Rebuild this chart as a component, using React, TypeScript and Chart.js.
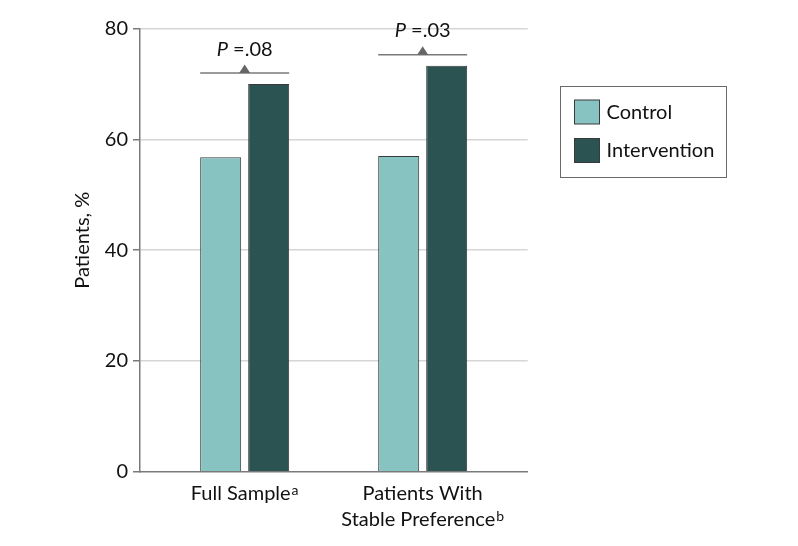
import React, { useEffect, useRef } from 'react';
import { Chart, registerables } from 'chart.js';

Chart.register(...registerables);

// ---- data ----
const categoryLines = [['Full Sample'], ['Patients With', 'Stable Preference']];
const footnoteMarks = ['a', 'b'];
const categoryPositions = [1, 2];
const seriesNames = ['Control', 'Intervention'];
const controlValues = [56.8, 57.0];
const interventionValues = [70.0, 73.3];
const pValueLabels = ['.08', '.03'];
const yTickValues = [0, 20, 40, 60, 80];
const yAxisTitle = 'Patients, %';

// ---- style ----
const FONT = 'Lato, "DejaVu Sans", sans-serif';
const FS = 20;
const TEXT = '#111111';
const AXIS = '#7a7a7a';
const GRID = '#d6d6d6';
const CONTROL_COLOR = '#87c3c1';
const INTERVENTION_COLOR = '#2b5351';
const BAR_BORDER = '#3a3a3a';
const seriesColors = [CONTROL_COLOR, INTERVENTION_COLOR];

const overlayPlugin = {
  id: 'overlay',
  afterDraw(chart: any) {
    const { ctx, chartArea } = chart;
    const xScale = chart.scales.x;
    const yScale = chart.scales.y;
    ctx.save();
    ctx.fillStyle = TEXT;

    // y-axis title
    ctx.save();
    ctx.translate(83, (chartArea.top + chartArea.bottom) / 2 - 10);
    ctx.rotate(-Math.PI / 2);
    ctx.font = `${FS}px ${FONT}`;
    ctx.textAlign = 'center';
    ctx.textBaseline = 'middle';
    ctx.fillText(yAxisTitle, 0, 0);
    ctx.restore();

    // x category labels with superscript footnote marks
    categoryPositions.forEach((pos, i) => {
      const cx = xScale.getPixelForValue(pos);
      const lines = categoryLines[i];
      lines.forEach((line, li) => {
        const baseline = chartArea.bottom + 28.5 + li * 26;
        ctx.font = `${FS}px ${FONT}`;
        const w = ctx.measureText(line).width;
        const isLast = li === lines.length - 1;
        let supW = 0;
        if (isLast) {
          ctx.font = `14px ${FONT}`;
          supW = ctx.measureText(footnoteMarks[i]).width + 1;
        }
        const total = w + supW;
        const left = cx - total / 2;
        ctx.font = `${FS}px ${FONT}`;
        ctx.textAlign = 'left';
        ctx.textBaseline = 'alphabetic';
        ctx.fillText(line, left, baseline);
        if (isLast) {
          ctx.font = `14px ${FONT}`;
          ctx.fillText(footnoteMarks[i], left + w + 1, baseline - 5);
        }
      });
    });

    // significance brackets
    const m0 = chart.getDatasetMeta(0);
    const m1 = chart.getDatasetMeta(1);
    categoryPositions.forEach((pos, i) => {
      const b0 = m0.data[i];
      const b1 = m1.data[i];
      const left = b0.x - b0.width / 2;
      const right = b1.x + b1.width / 2;
      const cx = (left + right) / 2;
      const top = Math.max(controlValues[i], interventionValues[i]) + 2;
      const yLine = yScale.getPixelForValue(top);
      ctx.strokeStyle = AXIS;
      ctx.lineWidth = 1.5;
      ctx.beginPath();
      ctx.moveTo(left, yLine);
      ctx.lineTo(right, yLine);
      ctx.stroke();
      ctx.fillStyle = '#666666';
      ctx.beginPath();
      ctx.moveTo(cx - 5.5, yLine);
      ctx.lineTo(cx + 5.5, yLine);
      ctx.lineTo(cx, yLine - 8.5);
      ctx.closePath();
      ctx.fill();

      ctx.fillStyle = TEXT;
      ctx.textBaseline = 'alphabetic';
      ctx.textAlign = 'left';
      ctx.font = `italic ${FS}px ${FONT}`;
      const pW = ctx.measureText('P').width;
      ctx.font = `${FS}px ${FONT}`;
      const rest = ' =' + pValueLabels[i];
      const rW = ctx.measureText(rest).width;
      const start = cx - (pW + rW) / 2;
      const base = yLine - 17.5;
      ctx.font = `italic ${FS}px ${FONT}`;
      ctx.fillText('P', start, base);
      ctx.font = `${FS}px ${FONT}`;
      ctx.fillText(rest, start + pW, base);
    });

    // legend
    const lx = 560.5, ly = 86.5, lw = 166, lh = 91;
    ctx.strokeStyle = '#6a6a6a';
    ctx.lineWidth = 1;
    ctx.strokeRect(lx, ly, lw, lh);
    seriesNames.forEach((name, i) => {
      const sy = 100 + i * 38.5;
      ctx.fillStyle = seriesColors[i];
      ctx.fillRect(574.5, sy, 25, 24);
      ctx.strokeStyle = BAR_BORDER;
      ctx.lineWidth = 1;
      ctx.strokeRect(574.5, sy, 25, 24);
      ctx.fillStyle = TEXT;
      ctx.font = `${FS}px ${FONT}`;
      ctx.textAlign = 'left';
      ctx.textBaseline = 'middle';
      ctx.fillText(name, 606.5, sy + 12.5);
    });

    ctx.restore();
  },
};

export default function App() {
  const canvasRef = useRef<HTMLCanvasElement | null>(null);

  useEffect(() => {
    const canvas = canvasRef.current;
    if (!canvas) return;
    const makeData = (vals: number[]) => categoryPositions.map((x, i) => ({ x, y: vals[i] }));
    const chart = new Chart(canvas, {
      type: 'bar',
      data: {
        datasets: [
          {
            label: seriesNames[0],
            data: makeData(controlValues),
            backgroundColor: CONTROL_COLOR,
            borderColor: BAR_BORDER,
            borderWidth: 1,
            categoryPercentage: 0.5393,
            barPercentage: 0.854,
          },
          {
            label: seriesNames[1],
            data: makeData(interventionValues),
            backgroundColor: INTERVENTION_COLOR,
            borderColor: BAR_BORDER,
            borderWidth: 1,
            categoryPercentage: 0.5393,
            barPercentage: 0.854,
          },
        ],
      } as any,
      options: {
        responsive: false,
        devicePixelRatio: 1,
        animation: false,
        layout: { padding: { left: 0, top: 28.7, right: 270.3, bottom: 0 } },
        plugins: { legend: { display: false }, tooltip: { enabled: false } },
        scales: {
          x: {
            type: 'linear',
            min: 0.412,
            max: 2.59,
            bounds: 'data',
            offset: false,
            afterBuildTicks: (s: any) => {
              s.ticks = categoryPositions.map((v) => ({ value: v }));
            },
            afterFit: (s: any) => {
              s.height = 546 - 471.7;
            },
            grid: { display: false, drawTicks: false, offset: false },
            border: { display: true, color: AXIS, width: 1.5 },
            ticks: { display: false },
          },
          y: {
            min: 0,
            max: 80,
            afterBuildTicks: (s: any) => {
              s.ticks = yTickValues.map((v) => ({ value: v }));
            },
            afterFit: (s: any) => {
              s.width = 140;
            },
            grid: {
              color: (c: any) => (c.tick && c.tick.value === 0 ? 'rgba(0,0,0,0)' : GRID),
              lineWidth: 1.5,
              tickColor: AXIS,
              tickLength: 7,
              tickWidth: 1.5,
            },
            border: { display: true, color: AXIS, width: 1.5 },
            ticks: { color: TEXT, font: { family: FONT, size: FS }, padding: 5 },
          },
        },
      } as any,
      plugins: [overlayPlugin],
    });
    return () => chart.destroy();
  }, []);

  return (
    <div style={{ position: 'fixed', left: 0, top: 0, width: 798, height: 546, background: '#fff' }}>
      <canvas ref={canvasRef} width={798} height={546} />
    </div>
  );
}
